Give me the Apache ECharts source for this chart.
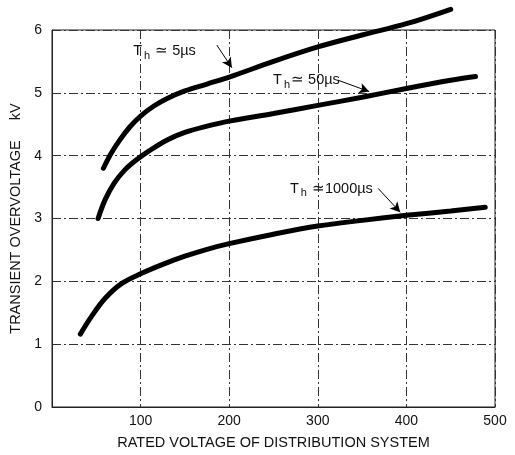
<!DOCTYPE html>
<html style="height: 100%">
<head>
  <meta charset="utf-8">
</head>
<body style="height: 100%; margin: 0; background: #fff">
  <div id="container" style="width: 515px; height: 455px"></div>
  <script type="text/javascript" src="https://fastly.jsdelivr.net/npm/echarts@6/dist/echarts.min.js"></script>
  <script type="text/javascript">
    // curves: [rated voltage, kV]
    var curve5us = [[58, 3.8], [66, 4.02], [76, 4.24], [88, 4.46], [100, 4.63], [115, 4.79], [130, 4.91], [150, 5.03], [175, 5.14], [200, 5.25], [250, 5.5], [300, 5.73], [350, 5.92], [400, 6.1], [450, 6.33]];
    var curve50us = [[52, 3.0], [60, 3.3], [70, 3.56], [82, 3.77], [95, 3.93], [110, 4.08], [130, 4.25], [150, 4.37], [175, 4.47], [200, 4.55], [250, 4.67], [300, 4.8], [350, 4.93], [400, 5.07], [450, 5.2], [478, 5.26]];
    var curve1000us = [[32, 1.16], [45, 1.45], [60, 1.73], [78, 1.96], [100, 2.12], [125, 2.27], [150, 2.4], [175, 2.51], [200, 2.6], [250, 2.75], [300, 2.88], [350, 2.97], [400, 3.05], [450, 3.12], [489, 3.18]];

    // annotation text anchors and arrow ends
    var labels = [
      { main: ' ≃ 5µs', at: [91, 5.66], from: [186, 5.76], to: [203, 5.4] },
      { main: '≃ 50µs', at: [249, 5.2], from: [323, 5.2], to: [358, 5.02] },
      { main: ' ≃1000µs', at: [268, 3.47], from: [368, 3.48], to: [393, 3.1] }
    ];

    var dom = document.getElementById('container');
    var myChart = echarts.init(dom, null, { renderer: 'canvas' });

    var gridDash = [9, 3, 2, 3];
    var font = 'Liberation Sans, Arial, sans-serif';

    function curveSeries(data, lab) {
      return {
        type: 'line',
        data: data,
        smooth: 0.35,
        clip: false,
        showSymbol: false,
        lineStyle: { color: '#000', width: 5, cap: 'round' },
        markPoint: {
          symbol: 'circle',
          symbolSize: 1,
          itemStyle: { color: 'rgba(0,0,0,0)' },
          data: [{ coord: lab.at }],
          label: {
            show: true,
            position: 'right',
            distance: 0,
            formatter: '{t|T}{s|h}{t|' + lab.main + '}',
            rich: {
              t: { fontSize: 14.5, color: '#111', fontFamily: font },
              s: { fontSize: 11, color: '#111', fontFamily: font, padding: [9, 1, 0, 2] }
            }
          }
        },
        markLine: {
          silent: true,
          symbol: ['none', 'arrow'],
          symbolSize: [8, 10],
          lineStyle: { color: '#000', width: 1, type: 'solid', curveness: -0.15 },
          label: { show: false },
          data: [[{ coord: lab.from }, { coord: lab.to }]]
        }
      };
    }

    var option = {
      animation: false,
      grid: { left: 52, right: 20, top: 30, bottom: 45, show: true, borderColor: '#222', borderWidth: 1 },
      xAxis: {
        type: 'value',
        min: 0,
        max: 500,
        interval: 100,
        name: 'RATED VOLTAGE OF DISTRIBUTION SYSTEM',
        nameLocation: 'middle',
        nameGap: 28,
        nameTextStyle: { fontSize: 14.5, color: '#111', fontFamily: font },
        axisLine: { show: true, lineStyle: { color: '#222' } },
        axisTick: { show: false },
        axisLabel: { fontSize: 14, color: '#111', fontFamily: font, margin: 7, formatter: function (v) { return v === 0 ? '' : v; } },
        splitLine: { show: true, lineStyle: { color: '#333', type: gridDash, width: 1 } }
      },
      yAxis: {
        type: 'value',
        min: 0,
        max: 6,
        interval: 1,
        name: 'TRANSIENT OVERVOLTAGE     kV',
        nameLocation: 'middle',
        nameGap: 26,
        nameTextStyle: { fontSize: 14.5, color: '#111', fontFamily: font },
        axisLine: { show: true, lineStyle: { color: '#222' } },
        axisTick: { show: false },
        axisLabel: { fontSize: 14, color: '#111', fontFamily: font, margin: 10 },
        splitLine: { show: true, lineStyle: { color: '#333', type: gridDash, width: 1 } }
      },
      series: [
        curveSeries(curve5us, labels[0]),
        curveSeries(curve50us, labels[1]),
        curveSeries(curve1000us, labels[2])
      ]
    };

    myChart.setOption(option);
    window.addEventListener('resize', myChart.resize);
  </script>
</body>
</html>
